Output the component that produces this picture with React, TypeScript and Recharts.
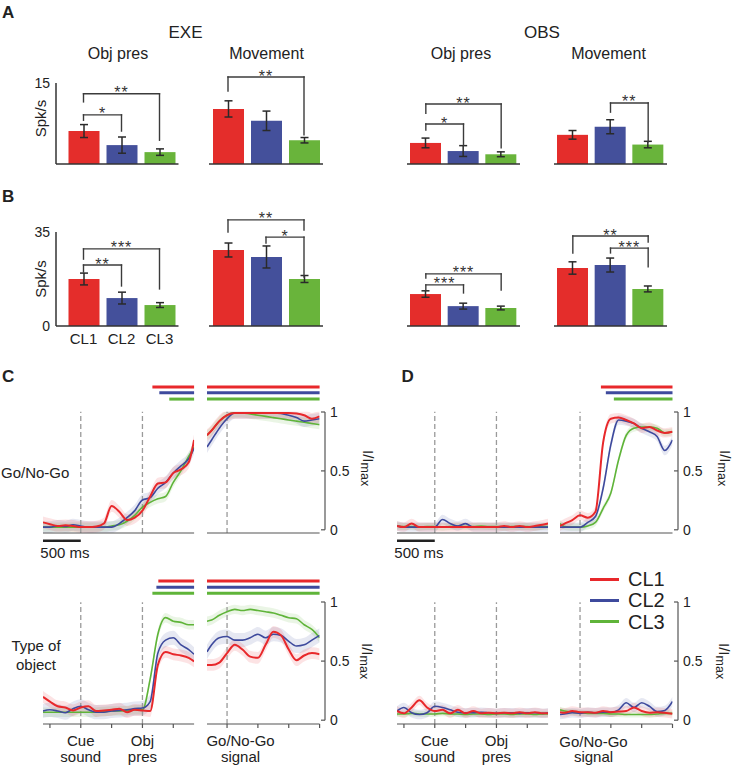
import React from 'react';
import {
  BarChart, Bar, Cell, ErrorBar, XAxis, YAxis, ReferenceLine,
  ComposedChart, Line, Area, Legend,
} from 'recharts';

const FONT = '"Liberation Sans", Arial, Helvetica, sans-serif';
const INK = '#222';
const RED = '#E8282B';
const BLUE = '#3E4A9D';
const GREEN = '#5FB439';
const BAR_FILLS = ['#E42D2B', '#44509B', '#69B43B'];

const clusters = ['CL1', 'CL2', 'CL3'];

// A: mean firing rate (spk/s) and sem, per cluster
const exeObjA = [6.1, 3.5, 2.2];
const exeObjAErr = [1.2, 1.5, 0.6];
const exeMovA = [10.2, 8.0, 4.4];
const exeMovAErr = [1.5, 1.8, 0.5];
const obsObjA = [3.9, 2.4, 1.8];
const obsObjAErr = [0.9, 1.0, 0.45];
const obsMovA = [5.4, 6.9, 3.6];
const obsMovAErr = [0.8, 1.3, 0.6];

// B
const exeObjB = [17.5, 10.4, 7.8];
const exeObjBErr = [2.2, 2.2, 0.9];
const exeMovB = [28.3, 25.7, 17.5];
const exeMovBErr = [2.6, 4.1, 1.3];
const obsObjB = [11.9, 7.4, 6.7];
const obsObjBErr = [1.2, 1.1, 0.7];
const obsMovB = [21.6, 22.7, 13.8];
const obsMovBErr = [2.3, 2.6, 1.1];

type Bracket = { from: string; to: string; level: number; leftEnd: number; rightEnd: number; stars: string };

const exeObjAPairs: Bracket[] = [
  { from: 'CL1', to: 'CL3', level: 13, leftEnd: 11.5, rightEnd: 4.4, stars: '**' },
  { from: 'CL1', to: 'CL2', level: 9.1, leftEnd: 8.1, rightEnd: 6.1, stars: '*' },
];
const exeMovAPairs: Bracket[] = [
  { from: 'CL1', to: 'CL3', level: 16.1, leftEnd: 13.5, rightEnd: 5.4, stars: '**' },
];
const obsObjAPairs: Bracket[] = [
  { from: 'CL1', to: 'CL3', level: 11.1, leftEnd: 9.4, rightEnd: 3.0, stars: '**' },
  { from: 'CL1', to: 'CL2', level: 7.4, leftEnd: 6.3, rightEnd: 3.5, stars: '*' },
];
const obsMovAPairs: Bracket[] = [
  { from: 'CL2', to: 'CL3', level: 11.3, leftEnd: 9.6, rightEnd: 4.1, stars: '**' },
];
const exeObjBPairs: Bracket[] = [
  { from: 'CL1', to: 'CL3', level: 28.7, leftEnd: 24.9, rightEnd: 13.8, stars: '***' },
  { from: 'CL1', to: 'CL2', level: 22.7, leftEnd: 20.1, rightEnd: 14.9, stars: '**' },
];
const exeMovBPairs: Bracket[] = [
  { from: 'CL1', to: 'CL3', level: 39.5, leftEnd: 35, rightEnd: 35.7, stars: '**' },
  { from: 'CL2', to: 'CL3', level: 33.1, leftEnd: 30.9, rightEnd: 18.2, stars: '*' },
];
const obsObjBPairs: Bracket[] = [
  { from: 'CL1', to: 'CL3', level: 19.4, leftEnd: 17.9, rightEnd: 13.4, stars: '***' },
  { from: 'CL1', to: 'CL2', level: 15.3, leftEnd: 13.4, rightEnd: 12.3, stars: '***' },
];
const obsMovBPairs: Bracket[] = [
  { from: 'CL1', to: 'CL3', level: 33.5, leftEnd: 27.2, rightEnd: 31.3, stars: '**' },
  { from: 'CL2', to: 'CL3', level: 29, leftEnd: 27.2, rightEnd: 22, stars: '***' },
];

// C / D: normalized activity (I/Imax), time in ms from cue (left) and go signal (right)
const tLeft = [-490, -400, -300, -200, -100, 0, 100, 200, 300, 400, 500, 600, 700, 800, 900, 1000, 1100, 1200, 1300, 1400, 1470];
const tRight = [-260, -200, -100, 0, 100, 200, 300, 400, 500, 600, 700, 800, 900, 1000, 1100, 1200];
const leftTicks = [-400, 0, 400, 800, 1200];
const rightTicks = [0, 400, 800, 1200];

const goExeRedL = [0.06, 0.045, 0.03, 0.035, 0.03, 0.02, 0.02, 0.025, 0.05, 0.2, 0.15, 0.08, 0.1, 0.16, 0.28, 0.39, 0.4, 0.48, 0.51, 0.57, 0.76];
const goExeBlueL = [0.02, 0.02, 0.03, 0.025, 0.04, 0.03, 0.02, 0.02, 0.02, 0.02, 0.05, 0.1, 0.16, 0.25, 0.27, 0.35, 0.4, 0.48, 0.54, 0.6, 0.69];
const goExeGreenL = [0.02, 0.02, 0.02, 0.02, 0.02, 0.02, 0.02, 0.02, 0.02, 0.03, 0.04, 0.07, 0.12, 0.19, 0.23, 0.26, 0.28, 0.4, 0.5, 0.62, 0.7];
const goExeRedR = [0.8, 0.84, 0.92, 0.97, 0.99, 0.99, 0.99, 0.99, 0.99, 0.99, 0.99, 0.99, 0.985, 0.97, 0.94, 0.96];
const goExeBlueR = [0.7, 0.76, 0.86, 0.94, 0.99, 0.99, 0.99, 0.99, 0.99, 0.99, 0.985, 0.97, 0.95, 0.92, 0.93, 0.94];
const goExeGreenR = [0.8, 0.84, 0.92, 0.97, 0.99, 0.99, 0.98, 0.97, 0.96, 0.95, 0.94, 0.93, 0.92, 0.91, 0.9, 0.89];

const goObsRedL = [0.03, 0.02, 0.05, 0.02, 0.02, 0.02, 0.02, 0.02, 0.02, 0.02, 0.02, 0.02, 0.02, 0.02, 0.03, 0.02, 0.03, 0.02, 0.03, 0.04, 0.05];
const goObsBlueL = [0.03, 0.02, 0.02, 0.02, 0.02, 0.02, 0.085, 0.05, 0.03, 0.05, 0.02, 0.02, 0.02, 0.02, 0.02, 0.02, 0.02, 0.02, 0.02, 0.02, 0.02];
const goObsGreenL = [0.03, 0.025, 0.025, 0.02, 0.025, 0.025, 0.02, 0.025, 0.03, 0.025, 0.025, 0.03, 0.025, 0.025, 0.02, 0.025, 0.025, 0.025, 0.02, 0.025, 0.025];
const goObsRedR = [0.03, 0.05, 0.08, 0.12, 0.1, 0.15, 0.74, 0.94, 0.95, 0.93, 0.9, 0.86, 0.87, 0.84, 0.82, 0.83];
const goObsBlueR = [0.02, 0.02, 0.02, 0.02, 0.06, 0.11, 0.35, 0.72, 0.93, 0.92, 0.9, 0.86, 0.83, 0.79, 0.67, 0.76];
const goObsGreenR = [0.05, 0.025, 0.02, 0.02, 0.03, 0.06, 0.18, 0.31, 0.59, 0.8, 0.86, 0.87, 0.87, 0.86, 0.82, 0.83];

const typeExeRedL = [0.2, 0.16, 0.12, 0.11, 0.085, 0.11, 0.12, 0.08, 0.085, 0.09, 0.1, 0.07, 0.09, 0.085, 0.08, 0.47, 0.58, 0.56, 0.55, 0.53, 0.5];
const typeExeBlueL = [0.08, 0.09, 0.08, 0.065, 0.1, 0.12, 0.09, 0.07, 0.07, 0.08, 0.085, 0.09, 0.1, 0.105, 0.16, 0.57, 0.68, 0.7, 0.64, 0.6, 0.56];
const typeExeGreenL = [0.07, 0.07, 0.07, 0.07, 0.07, 0.07, 0.07, 0.07, 0.075, 0.08, 0.08, 0.085, 0.09, 0.09, 0.35, 0.73, 0.87, 0.84, 0.83, 0.81, 0.81];
const typeExeRedR = [0.47, 0.47, 0.49, 0.57, 0.64, 0.6, 0.54, 0.53, 0.64, 0.75, 0.72, 0.6, 0.51, 0.55, 0.57, 0.56];
const typeExeBlueR = [0.58, 0.64, 0.7, 0.71, 0.68, 0.68, 0.7, 0.73, 0.7, 0.73, 0.72, 0.67, 0.63, 0.64, 0.68, 0.72];
const typeExeGreenR = [0.84, 0.85, 0.89, 0.92, 0.94, 0.93, 0.94, 0.93, 0.92, 0.91, 0.89, 0.87, 0.86, 0.81, 0.77, 0.7];

const typeObsRedL = [0.08, 0.06, 0.11, 0.17, 0.11, 0.08, 0.09, 0.06, 0.09, 0.06, 0.08, 0.06, 0.065, 0.06, 0.065, 0.06, 0.07, 0.06, 0.07, 0.06, 0.06];
const typeObsBlueL = [0.08, 0.11, 0.065, 0.05, 0.065, 0.12, 0.11, 0.09, 0.07, 0.065, 0.065, 0.07, 0.065, 0.06, 0.065, 0.065, 0.06, 0.065, 0.065, 0.06, 0.065];
const typeObsGreenL = [0.055, 0.055, 0.06, 0.055, 0.055, 0.055, 0.06, 0.055, 0.055, 0.05, 0.055, 0.055, 0.05, 0.055, 0.055, 0.05, 0.055, 0.055, 0.05, 0.055, 0.055];
const typeObsRedR = [0.07, 0.065, 0.08, 0.07, 0.07, 0.065, 0.08, 0.07, 0.075, 0.08, 0.11, 0.08, 0.065, 0.07, 0.065, 0.056];
const typeObsBlueR = [0.05, 0.055, 0.065, 0.06, 0.07, 0.065, 0.07, 0.07, 0.09, 0.15, 0.11, 0.15, 0.12, 0.075, 0.085, 0.16];
const typeObsGreenR = [0.09, 0.08, 0.07, 0.065, 0.06, 0.06, 0.06, 0.055, 0.055, 0.05, 0.05, 0.05, 0.05, 0.055, 0.06, 0.06];

// sem half-widths (red, blue, green)
const goExeSem = [0.05, 0.05, 0.04];
const goObsSem = [0.04, 0.04, 0.03];
const typeExeSem = [0.05, 0.06, 0.04];
const typeObsSem = [0.04, 0.04, 0.025];

// onset (ms) of significant selectivity (red, blue, green)
const goExeSigL = [929, 1019, 1148];
const goExeSigR = [-260, -260, -260];
const goObsSigR = [271, 335, 439];
const typeExeSigL = [1006, 981, 929];
const typeExeSigR = [-260, -260, -260];

const cueLabels: Record<number, string[]> = { 0: ['Cue', 'sound'], 800: ['Obj', 'pres'] };
const goLabels: Record<number, string[]> = { 0: ['Go/No-Go', 'signal'] };

const axisStub = [{ t: 0 }];

const starLabel = (stars: string) => (props: any) => {
  const vb = props.viewBox || { x: 0, y: 0, width: 0 };
  return (
    <text x={vb.x + vb.width / 2} y={vb.y + 4.5} textAnchor="middle" fontSize={16}
      fontFamily={FONT} fill="#333" letterSpacing={1}>{stars}</text>
  );
};

function bracketLines(b: Bracket, k: string) {
  const common = { stroke: '#3b3b3b', strokeWidth: 1.4, ifOverflow: 'visible' as const, strokeLinecap: 'square' as const };
  return [
    <ReferenceLine key={k + 'l'} {...common} segment={[{ x: b.from, y: b.leftEnd }, { x: b.from, y: b.level }]} />,
    <ReferenceLine key={k + 'h'} {...common} segment={[{ x: b.from, y: b.level }, { x: b.to, y: b.level }]} label={starLabel(b.stars)} />,
    <ReferenceLine key={k + 'r'} {...common} segment={[{ x: b.to, y: b.level }, { x: b.to, y: b.rightEnd }]} />,
  ];
}

type BarPanelProps = {
  axisX: number; padLeft: number; catWidth: number;
  top: number; plotTop: number; plotBottom: number; axisH: number;
  yMax: number; means: number[]; errs: number[]; pairs: Bracket[];
  showY?: boolean; showTicks?: boolean;
};

function BarPanel(p: BarPanelProps) {
  const data = clusters.map((c, i) => ({ name: c, mean: p.means[i], err: p.errs[i] }));
  const yw = p.showY ? 30 : 0;
  return (
    <div style={{ position: 'absolute', left: p.axisX - yw, top: p.top }}>
      <BarChart width={yw + p.padLeft + p.catWidth} height={p.plotBottom - p.top + p.axisH} data={data}
        margin={{ top: p.plotTop - p.top, right: 0, bottom: 0, left: 0 }}>
        <XAxis dataKey="name" padding={{ left: p.padLeft, right: 0 }} height={p.axisH} interval={0}
          axisLine={{ stroke: '#333', strokeWidth: 1.5 }} tickLine={false} tickSize={6} tickMargin={1}
          tick={p.showTicks ? { fontSize: 15, fill: INK, fontFamily: FONT } : false} />
        <YAxis hide={!p.showY} width={yw} domain={[0, p.yMax]} ticks={[0, p.yMax]} allowDataOverflow
          axisLine={{ stroke: '#333', strokeWidth: 1.5 }} tickLine={false} tickSize={4} tickMargin={2}
          tick={{ fontSize: 14, fill: INK, fontFamily: FONT }} />
        <Bar dataKey="mean" barSize={31} isAnimationActive={false}>
          {data.map((d, i) => <Cell key={d.name} fill={BAR_FILLS[i]} />)}
          <ErrorBar dataKey="err" width={4} stroke="#2a2a2a" strokeWidth={1.5} direction="y" isAnimationActive={false} />
        </Bar>
        {p.pairs.flatMap((b, i) => bracketLines(b, 'b' + i))}
      </BarChart>
    </div>
  );
}

const EventTick = (props: any) => {
  const { x, y, payload, labels, shift } = props;
  const lines: string[] | undefined = labels[payload.value];
  if (!lines) return <g />;
  return (
    <text textAnchor="middle" fontSize={15} fontFamily={FONT} fill={INK}>
      <tspan x={x + shift} y={y + 16.5}>{lines[0]}</tspan>
      <tspan x={x + shift} y={y + 32}>{lines[1]}</tspan>
    </text>
  );
};

const scaleLabel = (props: any) => {
  const vb = props.viewBox || { x: 0, y: 0, width: 0 };
  return (
    <text x={vb.x + vb.width / 2 + 3} y={vb.y + 17} textAnchor="middle" fontSize={15} fontFamily={FONT} fill={INK}>500 ms</text>
  );
};

const LegendBox = (props: any) => {
  const items = [...(props.payload || [])]
    .filter((d: any) => d.type !== 'none')
    .sort((a: any, b: any) => String(a.value).localeCompare(String(b.value)));
  return (
    <div style={{ fontFamily: FONT }}>
      {items.map((d: any) => (
        <div key={d.value} style={{ display: 'flex', alignItems: 'center', height: 21.2 }}>
          <span style={{ display: 'inline-block', width: 29, height: 3, background: d.color, marginRight: 9 }} />
          <span style={{ fontSize: 20, color: INK, lineHeight: '20px' }}>{d.value}</span>
        </div>
      ))}
    </div>
  );
};

type TraceProps = {
  plotLeft: number; plotRight: number; top: number; plotTop: number; plotBottom: number; axisH: number;
  xDomain: [number, number]; xTicks: number[]; events: number[];
  t: number[]; red: number[]; blue: number[]; green: number[]; sem: number[];
  sig?: number[]; sigLevels?: number[]; scaleBar?: boolean;
  eventLabels?: Record<number, string[]>; labelShift?: number; legendAt?: { x: number; y: number };
};

function Trace(p: TraceProps) {
  const data = p.t.map((t, i) => ({
    t,
    red: p.red[i], blue: p.blue[i], green: p.green[i],
    redBand: [p.red[i] - p.sem[0], p.red[i] + p.sem[0]],
    blueBand: [p.blue[i] - p.sem[1], p.blue[i] + p.sem[1]],
    greenBand: [p.green[i] - p.sem[2], p.green[i] + p.sem[2]],
  }));
  const side = 30;
  const chartLeft = p.plotLeft - side;
  const series = [
    { key: 'green', name: 'CL3', color: GREEN, w: 1.6 },
    { key: 'blue', name: 'CL2', color: BLUE, w: 1.6 },
    { key: 'red', name: 'CL1', color: RED, w: 2 },
  ];
  const sigColors = [RED, BLUE, GREEN];
  return (
    <div style={{ position: 'absolute', left: chartLeft, top: p.top }}>
      <ComposedChart width={p.plotRight - p.plotLeft + 2 * side} height={p.plotBottom - p.top + p.axisH} data={data}
        margin={{ top: p.plotTop - p.top, right: side, bottom: 0, left: side }}>
        <XAxis type="number" dataKey="t" domain={p.xDomain} ticks={p.xTicks} allowDataOverflow interval={0} height={p.axisH}
          axisLine={{ stroke: '#555', strokeWidth: 1.2 }} tickLine={{ stroke: '#555', strokeWidth: 1.2 }} tickSize={4} tickMargin={2}
          tick={p.eventLabels ? (props: any) => <EventTick {...props} labels={p.eventLabels} shift={p.labelShift ?? 0} /> : false} />
        <YAxis hide domain={[-0.03, 1]} allowDataOverflow />
        {p.events.map((e) => (
          <ReferenceLine key={'ev' + e} segment={[{ x: e, y: -0.03 }, { x: e, y: 1 }]} stroke="#9a9a9a"
            strokeDasharray="5 3" strokeWidth={1.3} ifOverflow="visible" />
        ))}
        {series.flatMap((s) => [
          <Area key={s.key + 'band'} dataKey={s.key + 'Band'} type="monotone" stroke="none" fill={s.color}
            fillOpacity={0.13} isAnimationActive={false} legendType="none" dot={false} activeDot={false} />,
          <Line key={s.key} dataKey={s.key} name={s.name} type="monotone" stroke={s.color} strokeWidth={s.w}
            dot={false} activeDot={false} isAnimationActive={false} />,
        ])}
        {p.sig && p.sigLevels && p.sig.map((start, i) => (
          <ReferenceLine key={'sig' + i} segment={[{ x: start, y: p.sigLevels![i] }, { x: p.xDomain[1], y: p.sigLevels![i] }]}
            stroke={sigColors[i]} strokeWidth={3} ifOverflow="visible" />
        ))}
        {p.scaleBar && (
          <ReferenceLine segment={[{ x: p.xDomain[0], y: -0.095 }, { x: 0, y: -0.095 }]} stroke="#222" strokeWidth={2.5}
            ifOverflow="visible" label={scaleLabel} />
        )}
        {p.legendAt && (
          <Legend layout="vertical" align="center" verticalAlign="middle" content={LegendBox}
            wrapperStyle={{ left: p.legendAt.x - chartLeft, top: p.legendAt.y - p.top, width: 'auto', height: 'auto' }} />
        )}
      </ComposedChart>
    </div>
  );
}

const AxisTick = (props: any) => {
  const { x, y, payload } = props;
  return (
    <g>
      <line x1={x - 9} x2={x - 5} y1={y} y2={y} stroke="#555" strokeWidth={1.2} />
      <text x={x} y={y} dy="0.35em" fontSize={14} fontFamily={FONT} fill={INK}>{payload.value}</text>
    </g>
  );
};

function RightAxis({ x, yOne, yZero }: { x: number; yOne: number; yZero: number }) {
  const pad = 10;
  return (
    <div style={{ position: 'absolute', left: x - 4, top: yOne - pad }}>
      <ComposedChart width={45} height={yZero - yOne + 2 * pad} data={axisStub}
        margin={{ top: pad, right: 0, bottom: pad, left: 3 }}>
        <XAxis dataKey="t" hide />
        <YAxis orientation="right" width={41} domain={[0, 1]} ticks={[0, 0.5, 1]} allowDataOverflow interval={0}
          axisLine={{ stroke: '#555', strokeWidth: 1.2 }} tickLine={false} tickSize={0} tickMargin={5} tick={AxisTick} />
      </ComposedChart>
    </div>
  );
}

const topRow = { top: 378, plotTop: 411.7, plotBottom: 533, axisH: 30 };
const bottomRow = { top: 560, plotTop: 602.3, plotBottom: 724, axisH: 43 };
const rowA = { top: 60, plotTop: 83, plotBottom: 164, axisH: 4, yMax: 15 };
const rowB = { top: 198, plotTop: 232, plotBottom: 326, axisH: 26, yMax: 35 };
const cLeft = { plotLeft: 43.2, plotRight: 194.3 };
const cRight = { plotLeft: 206.7, plotRight: 319.3 };
const dLeft = { plotLeft: 396.5, plotRight: 547.6 };
const dRight = { plotLeft: 560, plotRight: 672.5 };
const leftAxis = { xDomain: [-490, 1470] as [number, number], xTicks: leftTicks, events: [0, 800], t: tLeft };
const rightAxis = { xDomain: [-260, 1200] as [number, number], xTicks: rightTicks, events: [0], t: tRight };
const sigTop = [1.21, 1.16, 1.107];
const sigBottom = [1.18, 1.127, 1.076];

function IMax({ x, y }: { x: number; y: number }) {
  return (
    <text transform={`translate(${x},${y}) rotate(90)`} fontSize={15}>
      I/I<tspan fontSize={12.5} dy={2.5}>max</tspan>
    </text>
  );
}

export default function App() {
  return (
    <div style={{ position: 'absolute', left: 0, top: 0, width: 733, height: 767, background: '#fff', overflow: 'hidden' }}>
      {/* A */}
      <BarPanel axisX={56} padLeft={8.5} catWidth={114} {...rowA} means={exeObjA} errs={exeObjAErr} pairs={exeObjAPairs} showY />
      <BarPanel axisX={208.5} padLeft={0} catWidth={114} {...rowA} means={exeMovA} errs={exeMovAErr} pairs={exeMovAPairs} />
      <BarPanel axisX={406.5} padLeft={0} catWidth={113} {...rowA} means={obsObjA} errs={obsObjAErr} pairs={obsObjAPairs} />
      <BarPanel axisX={554} padLeft={0} catWidth={113} {...rowA} means={obsMovA} errs={obsMovAErr} pairs={obsMovAPairs} />
      {/* B */}
      <BarPanel axisX={56} padLeft={8.5} catWidth={114} {...rowB} means={exeObjB} errs={exeObjBErr} pairs={exeObjBPairs} showY showTicks />
      <BarPanel axisX={208.5} padLeft={0} catWidth={114} {...rowB} means={exeMovB} errs={exeMovBErr} pairs={exeMovBPairs} />
      <BarPanel axisX={406.5} padLeft={0} catWidth={113} {...rowB} means={obsObjB} errs={obsObjBErr} pairs={obsObjBPairs} />
      <BarPanel axisX={554} padLeft={0} catWidth={113} {...rowB} means={obsMovB} errs={obsMovBErr} pairs={obsMovBPairs} />

      {/* C / D, Go/No-Go */}
      <Trace {...cLeft} {...topRow} {...leftAxis} red={goExeRedL} blue={goExeBlueL} green={goExeGreenL} sem={goExeSem}
        sig={goExeSigL} sigLevels={sigTop} scaleBar />
      <Trace {...cRight} {...topRow} {...rightAxis} red={goExeRedR} blue={goExeBlueR} green={goExeGreenR} sem={goExeSem}
        sig={goExeSigR} sigLevels={sigTop} />
      <Trace {...dLeft} {...topRow} {...leftAxis} red={goObsRedL} blue={goObsBlueL} green={goObsGreenL} sem={goObsSem} scaleBar />
      <Trace {...dRight} {...topRow} {...rightAxis} red={goObsRedR} blue={goObsBlueR} green={goObsGreenR} sem={goObsSem}
        sig={goObsSigR} sigLevels={sigTop} />

      {/* C / D, Type of object */}
      <Trace {...cLeft} {...bottomRow} {...leftAxis} red={typeExeRedL} blue={typeExeBlueL} green={typeExeGreenL} sem={typeExeSem}
        sig={typeExeSigL} sigLevels={sigBottom} eventLabels={cueLabels} />
      <Trace {...cRight} {...bottomRow} {...rightAxis} red={typeExeRedR} blue={typeExeBlueR} green={typeExeGreenR} sem={typeExeSem}
        sig={typeExeSigR} sigLevels={sigBottom} eventLabels={goLabels} labelShift={13.5} />
      <Trace {...dLeft} {...bottomRow} {...leftAxis} red={typeObsRedL} blue={typeObsBlueL} green={typeObsGreenL} sem={typeObsSem}
        eventLabels={cueLabels} />
      <Trace {...dRight} {...bottomRow} {...rightAxis} red={typeObsRedR} blue={typeObsBlueR} green={typeObsGreenR} sem={typeObsSem}
        eventLabels={goLabels} labelShift={13.5} legendAt={{ x: 590, y: 568.7 }} />

      <RightAxis x={325} yOne={411.7} yZero={529.5} />
      <RightAxis x={677.7} yOne={411.7} yZero={529.5} />
      <RightAxis x={325} yOne={602.3} yZero={720.5} />
      <RightAxis x={677.7} yOne={602.3} yZero={720.5} />

      <svg width={733} height={767} style={{ position: 'absolute', left: 0, top: 0, pointerEvents: 'none' }}
        fontFamily={FONT} fill={INK}>
        <text x={2} y={18} fontSize={17} fontWeight="bold">A</text>
        <text x={2} y={201.5} fontSize={17} fontWeight="bold">B</text>
        <text x={2} y={381.5} fontSize={17} fontWeight="bold">C</text>
        <text x={401.5} y={381.5} fontSize={17} fontWeight="bold">D</text>
        <text x={185.5} y={37.5} fontSize={17} textAnchor="middle">EXE</text>
        <text x={542} y={37.5} fontSize={17} textAnchor="middle">OBS</text>
        <text x={118} y={58.5} fontSize={16} textAnchor="middle">Obj pres</text>
        <text x={266.5} y={58.5} fontSize={16} textAnchor="middle">Movement</text>
        <text x={461} y={58.5} fontSize={16} textAnchor="middle">Obj pres</text>
        <text x={608.5} y={58.5} fontSize={16} textAnchor="middle">Movement</text>
        <text transform="translate(46,118.5) rotate(-90)" fontSize={15} textAnchor="middle">Spk/s</text>
        <text transform="translate(46,279) rotate(-90)" fontSize={15} textAnchor="middle">Spk/s</text>
        <text x={1} y={478} fontSize={15}>Go/No-Go</text>
        <text x={36} y={651} fontSize={15} textAnchor="middle">Type of</text>
        <text x={36} y={670} fontSize={15} textAnchor="middle">object</text>
        <IMax x={363} y={450} />
        <IMax x={720} y={450} />
        <IMax x={362} y={643} />
        <IMax x={718.5} y={643} />
      </svg>
    </div>
  );
}
